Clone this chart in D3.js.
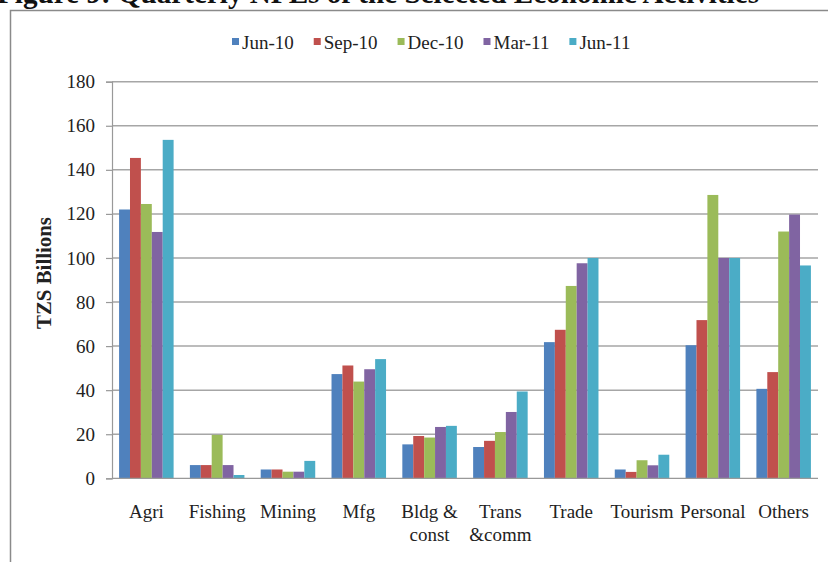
<!DOCTYPE html>
<html>
<head>
<meta charset="utf-8">
<script src="https://cdn.jsdelivr.net/npm/d3@7"></script>
<style>
  html, body { margin: 0; padding: 0; background: #fff; }
  svg { display: block; }
  text { font-family: "Liberation Serif", "Times New Roman", serif; fill: #222; }
</style>
</head>
<body>
<svg id="chart" width="828" height="562"></svg>
<script>
const categories = ["Agri", "Fishing", "Mining", "Mfg", "Bldg &\nconst", "Trans\n&comm", "Trade", "Tourism", "Personal", "Others"];
const seriesNames = ["Jun-10", "Sep-10", "Dec-10", "Mar-11", "Jun-11"];
const jun10 = [122, 6, 4, 47.3, 15.4, 14.2, 61.8, 4, 60.4, 40.6];
const sep10 = [145.4, 6, 4, 51.2, 19.2, 17, 67.4, 2.9, 71.8, 48.2];
const dec10 = [124.5, 19.7, 3, 43.9, 18.5, 21, 87.3, 8.2, 128.6, 112];
const mar11 = [111.8, 6, 3, 49.5, 23.3, 30.1, 97.6, 5.9, 100, 119.7];
const jun11 = [153.6, 1.5, 7.9, 54.1, 23.8, 39.4, 100, 10.7, 100, 96.6];
const yTicks = [0, 20, 40, 60, 80, 100, 120, 140, 160, 180];
const colors = ["#4F81BD", "#C0504D", "#9BBB59", "#8064A2", "#4BACC6"];
const title = "Figure 9: Quarterly NPLs of the Selected Economic Activities";
const yTitle = "TZS Billions";

(function () {
const seriesValues = [jun10, sep10, dec10, mar11, jun11];
const svg = d3.select("#chart");

svg.append("text").attr("x", -3).attr("y", 3)
  .style("font-size", "29px").style("font-weight", "bold").style("fill", "#111")
  .attr("textLength", 762).attr("lengthAdjust", "spacingAndGlyphs")
  .text(title);

svg.append("rect").attr("x", 10.5).attr("y", 10.5).attr("width", 830).attr("height", 570)
  .attr("fill", "none").attr("stroke", "#8a8a8a").attr("stroke-width", 1.5);

const pL = 112, pR = 818, pT = 81.7, pB = 478.3;
const x = d3.scaleBand().domain(categories).range([pL, pR]).paddingInner(0.23).paddingOuter(0.1);
const xs = d3.scaleBand().domain(seriesNames).range([0, x.bandwidth()]);
const y = d3.scaleLinear().domain([0, 180]).range([pB, pT]);

svg.append("g").selectAll("line").data(yTicks.filter(d => d > 0)).join("line")
  .attr("x1", pL).attr("x2", pR)
  .attr("y1", d => y(d)).attr("y2", d => y(d))
  .attr("stroke", "#a6a6a6").attr("stroke-width", 1.5);

const groups = svg.append("g").selectAll("g").data(seriesNames).join("g")
  .attr("fill", (d, i) => colors[i]);
groups.selectAll("rect").data((s, i) => categories.map((c, j) => ({c, s, v: seriesValues[i][j]}))).join("rect")
  .attr("x", d => x(d.c) + xs(d.s))
  .attr("width", xs.bandwidth())
  .attr("y", d => y(d.v))
  .attr("height", d => y(0) - y(d.v));

const yAxis = svg.append("g").attr("transform", `translate(${pL},0)`)
  .call(d3.axisLeft(y).tickValues(yTicks).tickSize(6).tickPadding(11).tickFormat(d3.format("d")));
yAxis.select(".domain").attr("stroke", "#999").attr("stroke-width", 1.2);
yAxis.selectAll(".tick line").attr("stroke", "#999").attr("stroke-width", 1.2);
yAxis.selectAll(".tick text").style("font-size", "19px").style("font-family", "Liberation Serif, serif").attr("fill", "#333");

svg.append("line").attr("x1", pL).attr("x2", pR).attr("y1", pB).attr("y2", pB)
  .attr("stroke", "#999").attr("stroke-width", 1.2);

const xl = svg.append("g").selectAll("text").data(categories).join("text")
  .attr("x", d => x(d) + x.bandwidth() / 2)
  .attr("y", 518)
  .attr("text-anchor", "middle")
  .style("font-size", "19px").attr("fill", "#222");
xl.each(function(d) {
  const lines = d.split("\n");
  d3.select(this).selectAll("tspan").data(lines).join("tspan")
    .attr("x", x(d) + x.bandwidth() / 2)
    .attr("dy", (l, i) => i === 0 ? 0 : 23)
    .text(l => l);
});

svg.append("text").attr("transform", "translate(51,273) rotate(-90)")
  .attr("text-anchor", "middle").style("font-size", "20px").style("font-weight", "bold")
  .attr("textLength", 112).attr("lengthAdjust", "spacingAndGlyphs")
  .text(yTitle);

// legend laid out by text width
const lg = svg.append("g").attr("transform", "translate(0,42)");
let cx = 232;
seriesNames.forEach((name, i) => {
  const g = lg.append("g").attr("transform", `translate(${cx},0)`);
  g.append("rect").attr("x", 0).attr("y", -4).attr("width", 7).attr("height", 7).attr("fill", colors[i]);
  const t = g.append("text").attr("x", 10).attr("y", 6.5).style("font-size", "19px").text(name);
  cx += 10 + t.node().getComputedTextLength() + 20;
});
})();
</script>
</body>
</html>
